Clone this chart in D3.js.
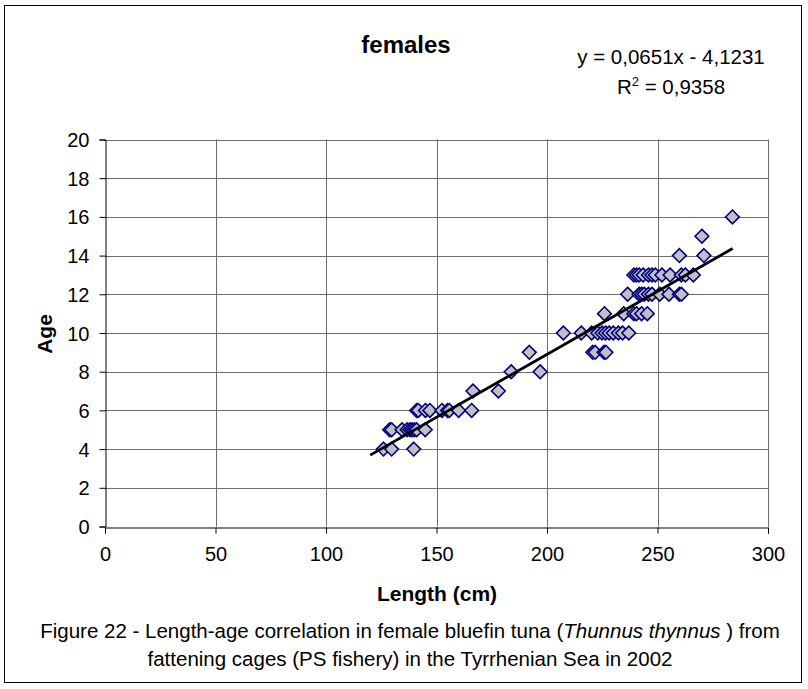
<!DOCTYPE html>
<html>
<head>
<meta charset="utf-8">
<script src="https://cdn.jsdelivr.net/npm/d3@7"></script>
<style>
body { margin: 0; background: #fff; }
text { font-family: "Liberation Sans", Arial, sans-serif; fill: #000; }
</style>
</head>
<body>
<svg class="tuna_svg" width="808" height="689"></svg>
<script>
// length (cm) and age of each fish
var lengths = [126, 129.7, 139.7,
    128.8, 129.7, 134.4, 136.7, 138, 139, 140, 141, 144.9,
    141, 141.8, 145, 147, 152.5, 155, 155.8, 160, 165.9,
    166.5, 178,
    183.8, 196.9,
    192, 220.7, 221.8, 225.8, 226.7,
    207.4, 215.5, 220.2, 223, 224.9, 226.5, 228.1, 230, 232.3, 234.2, 237,
    226, 234.7, 239.3, 240.5, 242.8, 245.4,
    236.5, 241.7, 242.8, 244, 245.9, 247.5, 251, 255.2, 259.9, 260.8,
    239.3, 240.5, 241.7, 243.5, 245.9, 247.5, 249, 252, 255.7, 260.8, 262.6, 266.2,
    259.9, 271,
    270.1,
    283.9];
var ages = [4, 4, 4,
    5, 5, 5, 5, 5, 5, 5, 5, 5,
    6, 6, 6, 6, 6, 6, 6, 6, 6,
    7, 7,
    8, 8,
    9, 9, 9, 9, 9,
    10, 10, 10, 10, 10, 10, 10, 10, 10, 10, 10,
    11, 11, 11, 11, 11, 11,
    12, 12, 12, 12, 12, 12, 12, 12, 12, 12,
    13, 13, 13, 13, 13, 13, 13, 13, 13, 13, 13, 13,
    14, 14,
    15,
    16];
var trend_slope = 0.0651, trend_icpt = -4.1231;
var trend_range = [120, 284];
var x_ticks = [0, 50, 100, 150, 200, 250, 300];
var y_ticks = [0, 2, 4, 6, 8, 10, 12, 14, 16, 18, 20];

var svg = d3.select(".tuna_svg");
var p_left = 105, p_right = 768, p_top = 139.5, p_bottom = 526.5;

var x = d3.scaleLinear().domain([0, 300]).range([p_left, p_right]);
var y = d3.scaleLinear().domain([0, 20]).range([p_bottom, p_top]);

// outer frame
svg.append("rect")
    .attr("x", 4.5).attr("y", 5.5)
    .attr("width", 797).attr("height", 677)
    .attr("fill", "none")
    .attr("stroke", "#000")
    .attr("stroke-width", 1);

// grid
svg.append("g").selectAll("line").data(y_ticks.slice(1)).join("line")
    .attr("x1", p_left).attr("x2", p_right)
    .attr("y1", function (d) { return Math.round(y(d)) + 0.5; })
    .attr("y2", function (d) { return Math.round(y(d)) + 0.5; })
    .attr("stroke", "#6e6e6e");
svg.append("g").selectAll("line").data(x_ticks.slice(1)).join("line")
    .attr("y1", p_top).attr("y2", p_bottom)
    .attr("x1", function (d) { return Math.round(x(d)) + 0.5; })
    .attr("x2", function (d) { return Math.round(x(d)) + 0.5; })
    .attr("stroke", "#6e6e6e");

// axes
var xAxis = svg.append("g")
    .attr("transform", "translate(0," + (Math.round(p_bottom) + 0.5) + ")")
    .call(d3.axisBottom(x).tickValues(x_ticks).tickSize(6).tickPadding(13));
var yAxis = svg.append("g")
    .attr("transform", "translate(" + (Math.round(p_left) + 0.5) + ",0)")
    .call(d3.axisLeft(y).tickValues(y_ticks).tickSize(6).tickPadding(10));
[xAxis, yAxis].forEach(function (a) {
    a.selectAll("text").style("font-size", "20px").style("font-family", "Liberation Sans, Arial, sans-serif");
    a.selectAll("line, path").attr("stroke", "#000");
});
xAxis.selectAll("text").attr("dy", "0.71em");
yAxis.selectAll("text").attr("dy", "0.35em");

// points
var pts = lengths.map(function (l, i) { return [l, ages[i]]; });
svg.append("g").selectAll("path").data(pts).join("path")
    .attr("d", d3.symbol().type(d3.symbolDiamond2).size(120))
    .attr("transform", function (d) { return "translate(" + x(d[0]) + "," + y(d[1]) + ")"; })
    .attr("fill", "#c0c0c0")
    .attr("stroke", "#000080")
    .attr("stroke-width", 1.6);

// trend line
svg.append("line")
    .attr("x1", x(trend_range[0]))
    .attr("y1", y(trend_slope * trend_range[0] + trend_icpt))
    .attr("x2", x(trend_range[1]))
    .attr("y2", y(trend_slope * trend_range[1] + trend_icpt))
    .attr("stroke", "#000")
    .attr("stroke-width", 2.8);

// titles
svg.append("text").text("females")
    .attr("x", 406).attr("y", 53)
    .attr("text-anchor", "middle")
    .style("font-size", "24px").style("font-weight", "bold");

svg.append("text").text("y = 0,0651x - 4,1231")
    .attr("x", 671).attr("y", 64)
    .attr("text-anchor", "middle")
    .style("font-size", "20.5px");
var r2 = svg.append("text")
    .attr("x", 671).attr("y", 94)
    .attr("text-anchor", "middle")
    .style("font-size", "20.5px");
r2.append("tspan").text("R");
r2.append("tspan").text("2").attr("dy", "-8").style("font-size", "13px");
r2.append("tspan").text(" = 0,9358").attr("dy", "8");

svg.append("text").text("Length (cm)")
    .attr("x", 437).attr("y", 601)
    .attr("text-anchor", "middle")
    .style("font-size", "21px").style("font-weight", "bold");

svg.append("text").text("Age")
    .attr("transform", "translate(45,334) rotate(-90)")
    .attr("dy", "0.35em")
    .attr("text-anchor", "middle")
    .style("font-size", "21px").style("font-weight", "bold");

// caption
var cap = svg.append("text")
    .attr("x", 410).attr("y", 638)
    .attr("text-anchor", "middle")
    .style("font-size", "20.5px");
cap.append("tspan").text("Figure 22 - Length-age correlation in female bluefin tuna (");
cap.append("tspan").text("Thunnus thynnus ").style("font-style", "italic");
cap.append("tspan").text(") from");
svg.append("text").text("fattening cages (PS fishery) in the Tyrrhenian Sea in 2002")
    .attr("x", 410).attr("y", 666)
    .attr("text-anchor", "middle")
    .style("font-size", "20.5px");
</script>
</body>
</html>
